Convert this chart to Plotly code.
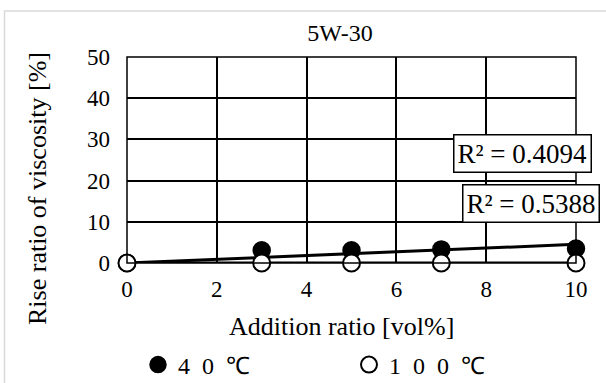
import numpy as np
import plotly.graph_objects as go

x_vals = [0, 3, 5, 7, 10]
y_40 = [0, 3.1, 3.1, 3.3, 3.5]
y_100 = [0, 0, 0, 0, 0]
r2_labels = ["R² = 0.4094", "R² = 0.5388"]
title_text = "5W-30"
x_title = "Addition ratio [vol%]"
y_title = "Rise ratio of viscosity [%]"
names = ["4\u20020\u2002℃", "1\u20020\u20020\u2002℃"]

FONT = "Liberation Serif, Times New Roman, serif"

def fit_origin(x, y):
    x = np.array(x, float); y = np.array(y, float)
    return float((x * y).sum() / (x * x).sum())

xs = np.array([min(x_vals), max(x_vals)], float)
s40 = fit_origin(x_vals, y_40)
s100 = fit_origin(x_vals, y_100)

fig = go.Figure()
fig.add_trace(go.Scatter(x=x_vals, y=y_40, mode="markers", name=names[0], legend="legend",
                         cliponaxis=False,
                         marker=dict(color="black", size=17, line=dict(color="black", width=1.5))))
fig.add_trace(go.Scatter(x=xs, y=s40 * xs, mode="lines", showlegend=False, cliponaxis=False,
                         line=dict(color="black", width=3), hoverinfo="skip"))
fig.add_trace(go.Scatter(x=xs, y=s100 * xs, mode="lines", showlegend=False, cliponaxis=False,
                         line=dict(color="black", width=3), hoverinfo="skip"))
fig.add_trace(go.Scatter(x=x_vals, y=y_100, mode="markers", name=names[1], legend="legend2",
                         cliponaxis=False,
                         marker=dict(color="white", size=17, line=dict(color="black", width=2))))

L, R, T, B = 127, 30, 57, 120
W, H = 606, 383
pw, ph = W - L - R, H - T - B

leg_common = dict(orientation="h", xref="container", yref="container", xanchor="left",
                  y=(H - 365) / H, yanchor="middle", font=dict(size=24),
                  bgcolor="rgba(0,0,0,0)")

fig.update_layout(
    width=W, height=H,
    margin=dict(l=L, r=R, t=T, b=B, autoexpand=False),
    paper_bgcolor="white", plot_bgcolor="white",
    font=dict(family=FONT, size=23, color="black"),
    title=dict(text=title_text, x=340 / W, xref="container", xanchor="center",
               y=1 - 33 / H, yref="container", yanchor="middle", font=dict(size=24)),
    xaxis=dict(range=[0, 10], dtick=2, showgrid=True, gridcolor="black", gridwidth=1.5,
               zeroline=False, showline=False, ticks="", tickfont=dict(size=23),
               ticklabelstandoff=10),
    yaxis=dict(range=[0, 50], dtick=10, showgrid=True, gridcolor="black", gridwidth=1.5,
               zeroline=False, showline=False, ticks="", tickfont=dict(size=23),
               ticklabelstandoff=16),
    legend=dict(x=138 / W, **leg_common),
    legend2=dict(x=349 / W, **leg_common),
    showlegend=True,
)

# axis titles as annotations (positioned like the reference)
fig.add_annotation(text=x_title, xref="paper", yref="paper", x=(341 - L) / pw,
                   y=-(326 - (T + ph)) / ph, showarrow=False, font=dict(size=26),
                   xanchor="center", yanchor="middle")
fig.add_annotation(text=y_title, xref="paper", yref="paper", x=(37 - L) / pw,
                   y=((T + ph) - 189) / ph, showarrow=False, font=dict(size=26),
                   textangle=-90, xanchor="center", yanchor="middle")

# plot border
fig.add_shape(type="rect", xref="paper", yref="paper", x0=0, x1=1, y0=0, y1=1,
              line=dict(color="black", width=1.5), layer="above")
# outer chart frame (light gray)
fig.add_shape(type="rect", xref="paper", yref="paper",
              x0=(4.5 - L) / pw, x1=(620 - L) / pw,
              y0=(T + ph - 400) / ph, y1=(T + ph - 11) / ph,
              line=dict(color="#d9d9d9", width=1.5), layer="below")

fig.add_annotation(x=8.8, y=26.6, xref="x", yref="y", text=r2_labels[0], showarrow=False,
                   font=dict(size=27), bgcolor="white", bordercolor="black", borderwidth=1.5,
                   borderpad=3, xanchor="center", yanchor="middle")
fig.add_annotation(x=9.0, y=14.4, xref="x", yref="y", text=r2_labels[1], showarrow=False,
                   font=dict(size=27), bgcolor="white", bordercolor="black", borderwidth=1.5,
                   borderpad=3, xanchor="center", yanchor="middle")

fig.write_html("out.html")
